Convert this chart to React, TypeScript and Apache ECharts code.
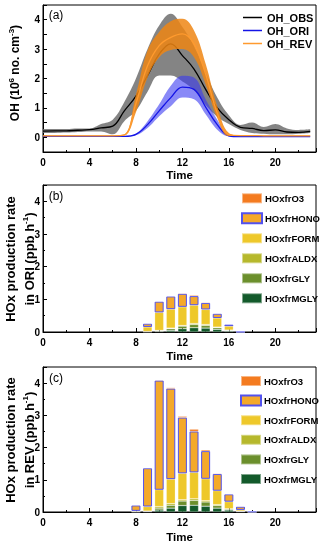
import React, { useEffect, useRef } from 'react';
import * as echarts from 'echarts';

// ---------- Panel (a): OH time series ----------
const hours = [0, 1, 2, 3, 4, 5, 6, 7, 8, 9, 10, 11, 12, 13, 14, 15, 16, 17, 18, 19, 20, 21, 22, 23];
const obsMean = [0.21, 0.22, 0.22, 0.24, 0.26, 0.32, 0.38, 0.9, 1.4, 2.1, 2.83, 3.18, 2.78, 2.32, 1.63, 1.0, 0.6, 0.34, 0.3, 0.23, 0.25, 0.18, 0.17, 0.2];
const obsUpper = [0.28, 0.28, 0.28, 0.3, 0.3, 0.45, 0.6, 1.2, 2.0, 3.0, 3.8, 4.2, 3.75, 3.1, 2.2, 1.35, 0.75, 0.42, 0.5, 0.35, 0.45, 0.3, 0.25, 0.27];
const obsLower = [0.15, 0.15, 0.16, 0.18, 0.2, 0.2, 0.1, 0.55, 0.9, 1.55, 2.1, 2.1, 1.9, 1.6, 1.1, 0.7, 0.45, 0.25, 0.15, 0.12, 0.1, 0.1, 0.12, 0.15];
const oriMean = [0.03, 0.03, 0.03, 0.03, 0.03, 0.03, 0.03, 0.03, 0.1, 0.43, 0.9, 1.35, 1.71, 1.63, 1.03, 0.43, 0.05, 0.02, 0.02, 0.02, 0.02, 0.02, 0.02, 0.02];
const oriUpper = [0.04, 0.04, 0.04, 0.04, 0.04, 0.04, 0.04, 0.04, 0.13, 0.55, 1.12, 1.75, 2.09, 2.03, 1.29, 0.6, 0.07, 0.03, 0.03, 0.03, 0.03, 0.03, 0.03, 0.03];
const oriLower = [0.02, 0.02, 0.02, 0.02, 0.02, 0.02, 0.02, 0.02, 0.07, 0.32, 0.72, 1.06, 1.35, 1.29, 0.78, 0.26, 0.03, 0.01, 0.01, 0.01, 0.01, 0.01, 0.01, 0.01];
const revMean = [0.05, 0.05, 0.05, 0.05, 0.05, 0.05, 0.05, 0.08, 1.15, 2.43, 3.12, 3.4, 3.52, 3.18, 2.15, 0.83, 0.09, 0.06, 0.06, 0.05, 0.05, 0.05, 0.05, 0.05];
const revUpper = [0.06, 0.06, 0.06, 0.06, 0.06, 0.06, 0.06, 0.1, 1.45, 2.95, 3.58, 3.95, 4.03, 3.63, 2.5, 1.06, 0.15, 0.07, 0.07, 0.06, 0.06, 0.06, 0.06, 0.06];
const revLower = [0.04, 0.04, 0.04, 0.04, 0.04, 0.04, 0.04, 0.06, 0.85, 2.03, 2.72, 2.97, 3.0, 2.72, 1.8, 0.66, 0.04, 0.05, 0.05, 0.04, 0.04, 0.04, 0.04, 0.04];

// ---------- Panel (b): HOx production, ORI ----------
const hoursB = [9, 10, 11, 12, 13, 14, 15, 16, 17];
const mglyB = [0.005, 0.02, 0.05, 0.1, 0.13, 0.12, 0.08, 0.03, 0];
const glyB = [0.005, 0.02, 0.05, 0.08, 0.1, 0.08, 0.05, 0.02, 0];
const aldxB = [0.005, 0.01, 0.02, 0.02, 0.03, 0.03, 0.02, 0.01, 0];
const formB = [0.14, 0.55, 0.58, 0.57, 0.56, 0.46, 0.28, 0.12, 0];
const honoB = [0.1, 0.33, 0.39, 0.4, 0.28, 0.2, 0.13, 0.05, 0.012];
const o3B = [0.005, 0.01, 0.01, 0.02, 0.03, 0.02, 0.01, 0.005, 0];

// ---------- Panel (c): HOx production, REV ----------
const hoursC = [8, 9, 10, 11, 12, 13, 14, 15, 16, 17, 18];
const mglyC = [0.005, 0.01, 0.06, 0.12, 0.2, 0.21, 0.18, 0.12, 0.06, 0.01, 0];
const glyC = [0.005, 0.01, 0.06, 0.09, 0.14, 0.15, 0.13, 0.08, 0.03, 0.01, 0];
const aldxC = [0.005, 0.01, 0.05, 0.05, 0.04, 0.05, 0.04, 0.03, 0.01, 0.005, 0];
const formC = [0.02, 0.14, 0.52, 0.76, 0.82, 0.82, 0.68, 0.43, 0.22, 0.04, 0];
const honoC = [0.17, 1.19, 3.39, 2.81, 1.73, 1.27, 0.86, 0.52, 0.23, 0.1, 0.02];
const o3C = [0.005, 0.01, 0.02, 0.03, 0.04, 0.07, 0.04, 0.02, 0.01, 0.01, 0];

const xTickLabels = ['0', '4', '8', '12', '16', '20'];
const yTickLabels = ['0', '1', '2', '3', '4'];

const FONT = '"Liberation Sans", Arial, sans-serif';

const C = {
  O3: '#F47B20',
  HONO: '#F4A92A',
  FORM: '#EEC82A',
  ALDX: '#B6B82C',
  GLY: '#6B8F2C',
  MGLY: '#135A2B',
  HONOBorder: '#5252EE',
};

const barNames = ['HOxfrO3', 'HOxfrHONO', 'HOxfrFORM', 'HOxfrALDX', 'HOxfrGLY', 'HOxfrMGLY'];

// value first, hour second: with encode {x:1, y:0} stacking happens on the value (y) dimension
function pairsVH(xs: number[], ys: number[]) {
  return xs.map((x, i) => [ys[i], x]);
}
const ENC = { x: 1, y: 0 };

function xAxisFor(gridIndex: number, nameGap: number) {
  return {
    type: 'value',
    gridIndex,
    min: 0,
    max: 23.5,
    interval: 4,
    name: 'Time',
    nameLocation: 'middle',
    nameGap,
    nameTextStyle: { fontWeight: 'bold', fontSize: 11.5, color: '#000', fontFamily: FONT },
    axisLine: { onZero: false, lineStyle: { color: '#000', width: 1 } },
    axisTick: { inside: true, length: 4, lineStyle: { color: '#000' } },
    minorTick: { show: true, splitNumber: 2, length: 2, lineStyle: { color: '#000' } },
    splitLine: { show: false },
    minorSplitLine: { show: false },
    axisLabel: {
      color: '#000',
      fontWeight: 'bold',
      fontSize: 10,
      fontFamily: FONT,
      margin: 5,
      formatter: (v: number) => (xTickLabels.includes(String(v)) ? String(v) : ''),
    },
  };
}

function yAxisFor(gridIndex: number, min: number, max: number, interval: number, minor: boolean) {
  return {
    type: 'value',
    gridIndex,
    min,
    max,
    interval,
    axisLine: { show: true, onZero: false, lineStyle: { color: '#000', width: 1 } },
    axisTick: { inside: true, length: 4, lineStyle: { color: '#000' } },
    minorTick: { show: minor, splitNumber: 2, length: 2, lineStyle: { color: '#000' } },
    splitLine: { show: false },
    minorSplitLine: { show: false },
    axisLabel: {
      color: '#000',
      fontWeight: 'bold',
      fontSize: 10,
      fontFamily: FONT,
      margin: 3,
      formatter: (v: number) => (yTickLabels.includes(String(v)) ? String(v) : ''),
    },
  };
}

function bandSeries(name: string, lower: number[], upper: number[], color: string, opacity: number, z: number) {
  return [
    {
      name: name + '_low',
      type: 'line',
      xAxisIndex: 0,
      yAxisIndex: 0,
      stack: name,
      smooth: 0.4,
      symbol: 'none',
      encode: ENC,
      lineStyle: { width: 0, opacity: 0 },
      data: pairsVH(hours, lower),
      z,
      silent: true,
    },
    {
      name: name + '_band',
      type: 'line',
      xAxisIndex: 0,
      yAxisIndex: 0,
      stack: name,
      smooth: 0.4,
      symbol: 'none',
      encode: ENC,
      lineStyle: { width: 0, opacity: 0 },
      areaStyle: { color, opacity },
      data: pairsVH(hours, upper.map((u, i) => u - lower[i])),
      z,
      silent: true,
    },
  ];
}

function meanSeries(name: string, values: number[], color: string, z: number) {
  return {
    name,
    type: 'line',
    xAxisIndex: 0,
    yAxisIndex: 0,
    smooth: 0.4,
    symbol: 'none',
    encode: ENC,
    itemStyle: { color },
    lineStyle: { color, width: 1.3 },
    data: pairsVH(hours, values),
    z,
  };
}

function barSeries(
  gi: number,
  stack: string,
  xs: number[],
  sets: { name: string; values: number[]; color: string }[]
) {
  return sets.map((s) => ({
    name: s.name,
    type: 'bar',
    xAxisIndex: gi,
    yAxisIndex: gi,
    stack,
    barWidth: 9,
    encode: ENC,
    itemStyle:
      s.name === 'HOxfrHONO'
        ? { color: s.color, borderColor: C.HONOBorder, borderWidth: 1 }
        : { color: s.color, borderColor: 'rgba(255,255,255,0.45)', borderWidth: 0.5 },
    data: pairsVH(xs, s.values),
  }));
}

function legendFor(left: number, top: number, itemGap: number) {
  return {
    orient: 'vertical',
    left,
    top,
    itemWidth: 20,
    itemHeight: 10,
    itemGap,
    icon: 'rect',
    selectedMode: false,
    data: barNames,
    textStyle: { color: '#000', fontSize: 9.5, fontWeight: 'bold', fontFamily: FONT, lineHeight: 12, padding: [0, 0, 0, -2] },
  };
}

function rotLabel(x: number, y: number, text: string, size: number) {
  return {
    type: 'text',
    x,
    y,
    rotation: Math.PI / 2,
    style: {
      text,
      fill: '#000',
      fontSize: size,
      fontWeight: 'bold',
      fontFamily: FONT,
      align: 'center',
      verticalAlign: 'middle',
      lineHeight: 16,
      rich: {
        sup: { fontSize: 8, fontWeight: 'bold', fontFamily: FONT, verticalAlign: 'top', lineHeight: 16, fill: '#000' },
        n: { fontSize: size, fontWeight: 'bold', fontFamily: FONT, lineHeight: 16, fill: '#000' },
      },
    },
  };
}

function panelLabel(x: number, y: number, text: string) {
  return {
    type: 'text',
    x,
    y,
    style: { text, fill: '#000', fontSize: 12, fontFamily: FONT, align: 'center', verticalAlign: 'middle' },
  };
}

export default function App() {
  const ref = useRef<HTMLDivElement>(null);

  useEffect(() => {
    if (!ref.current) return;
    const chart = echarts.init(ref.current, undefined, { renderer: 'svg' });

    const setsB = [
      { name: 'HOxfrMGLY', values: mglyB, color: C.MGLY },
      { name: 'HOxfrGLY', values: glyB, color: C.GLY },
      { name: 'HOxfrALDX', values: aldxB, color: C.ALDX },
      { name: 'HOxfrFORM', values: formB, color: C.FORM },
      { name: 'HOxfrHONO', values: honoB, color: C.HONO },
      { name: 'HOxfrO3', values: o3B, color: C.O3 },
    ];
    const setsC = [
      { name: 'HOxfrMGLY', values: mglyC, color: C.MGLY },
      { name: 'HOxfrGLY', values: glyC, color: C.GLY },
      { name: 'HOxfrALDX', values: aldxC, color: C.ALDX },
      { name: 'HOxfrFORM', values: formC, color: C.FORM },
      { name: 'HOxfrHONO', values: honoC, color: C.HONO },
      { name: 'HOxfrO3', values: o3C, color: C.O3 },
    ];

    const gridBase = { left: 43, width: 273, show: true, borderColor: '#000', borderWidth: 1, backgroundColor: 'transparent' };

    chart.setOption({
      animation: false,
      textStyle: { fontFamily: FONT },
      grid: [
        { ...gridBase, top: 5, height: 147 },
        { ...gridBase, top: 185, height: 147 },
        { ...gridBase, top: 367, height: 145 },
      ],
      xAxis: [xAxisFor(0, 17), xAxisFor(1, 18), xAxisFor(2, 19)],
      yAxis: [yAxisFor(0, -0.5, 4.5, 0.5, false), yAxisFor(1, 0, 4.5, 1, true), yAxisFor(2, 0, 4.5, 1, true)],
      legend: [
        {
          orient: 'vertical',
          left: 238,
          top: 6.5,
          itemWidth: 19,
          itemHeight: 1.5,
          itemGap: 1,
          icon: 'rect',
          selectedMode: false,
          data: ['OH_OBS', 'OH_ORI', 'OH_REV'],
          textStyle: { color: '#000', fontSize: 11, fontWeight: 'bold', fontFamily: FONT, lineHeight: 12 },
        },
        legendFor(236, 187.3, 8),
        legendFor(235, 370, 7.6),
      ],
      graphic: [
        panelLabel(56, 15, '(a)'),
        panelLabel(56, 196, '(b)'),
        panelLabel(56, 378, '(c)'),
        rotLabel(15, 73, '{n|OH (10}{sup|6}{n| no. cm}{sup|-3}{n|)}', 12),
        rotLabel(10, 259, 'HOx production rate', 13),
        rotLabel(29, 259, '{n|in ORI (ppb h}{sup|-1}{n|)}', 13),
        rotLabel(10, 440, 'HOx production rate', 13),
        rotLabel(29, 440, '{n|in REV (ppb h}{sup|-1}{n|)}', 13),
      ],
      series: [
        ...bandSeries('obs', obsLower, obsUpper, '#6E6E6E', 0.85, 1),
        meanSeries('OH_OBS', obsMean, '#000000', 2),
        ...bandSeries('ori', oriLower, oriUpper, '#3A3AF2', 0.6, 3),
        meanSeries('OH_ORI', oriMean, '#1414E6', 4),
        ...bandSeries('rev', revLower, revUpper, '#EE8614', 0.85, 5),
        meanSeries('OH_REV', revMean, '#FF9A2E', 6),
        ...barSeries(1, 'b', hoursB, setsB),
        ...barSeries(2, 'c', hoursC, setsC),
      ],
    });

    return () => chart.dispose();
  }, []);

  return <div ref={ref} style={{ position: 'fixed', left: 0, top: 0, width: 320, height: 546 }} />;
}
